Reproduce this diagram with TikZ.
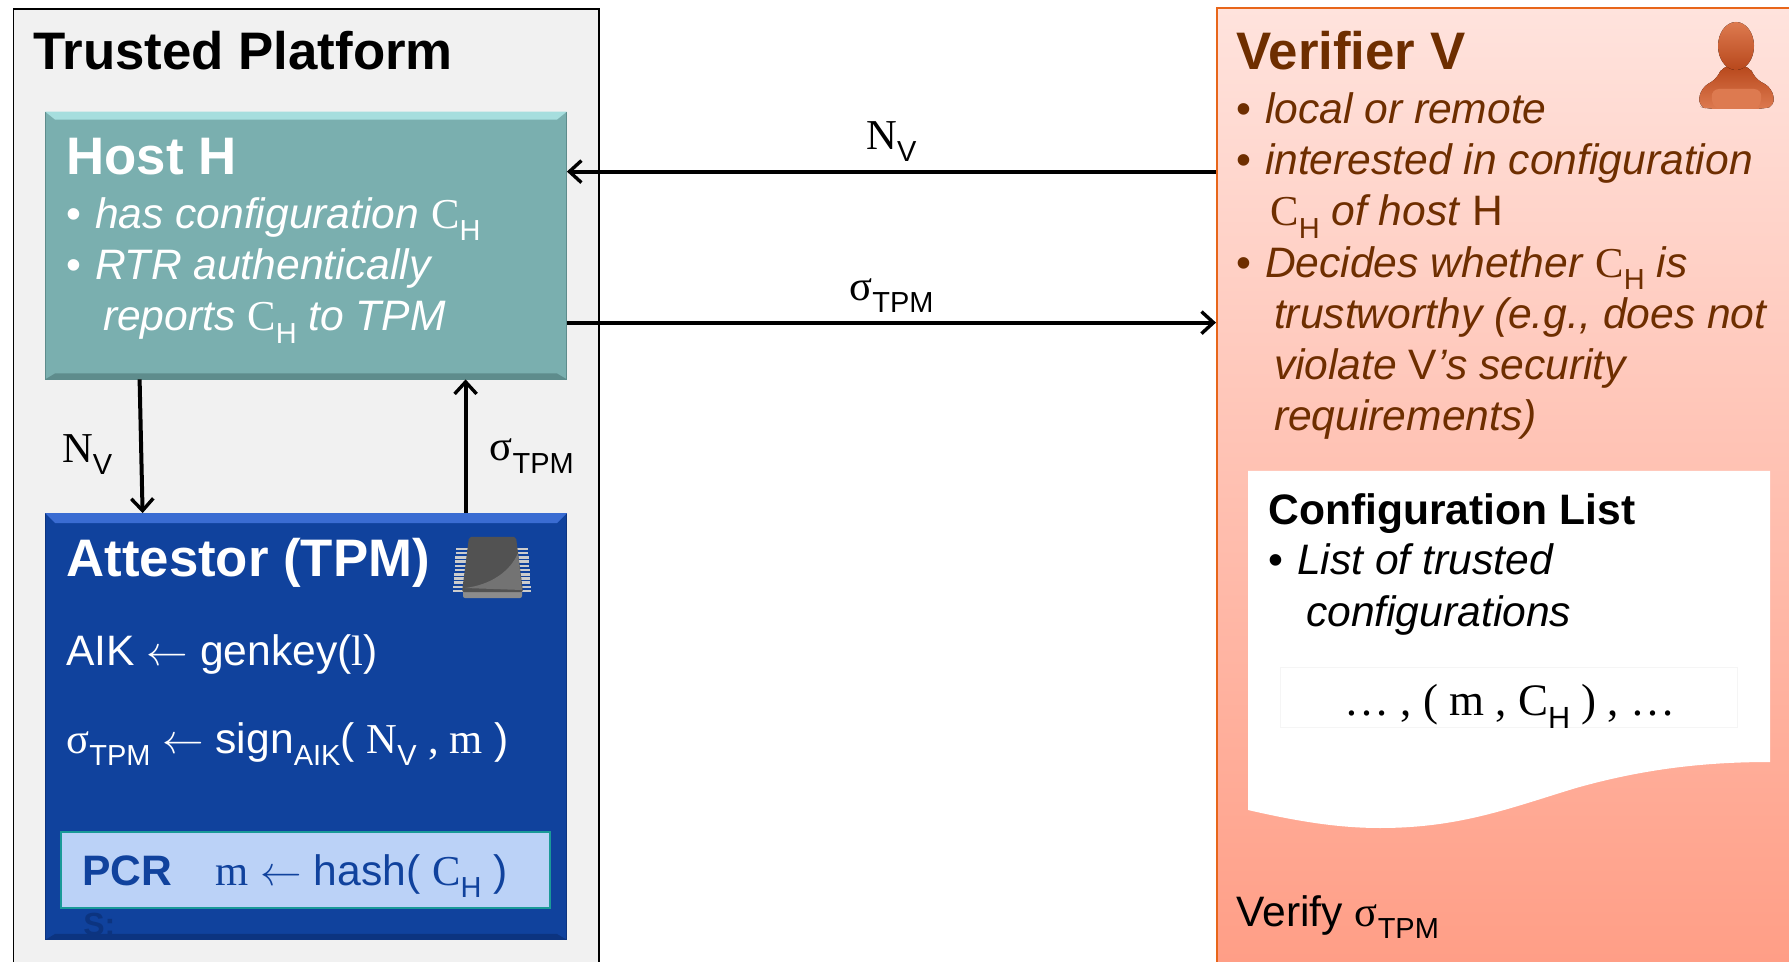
\documentclass[tikz,border=0pt]{standalone}
\usepackage{fontspec}
\setmainfont{Liberation Sans}
\newfontfamily\tnr{Liberation Serif}
\usetikzlibrary{calc, arrows.meta}

\definecolor{platformgray}{HTML}{F1F1F1}
\definecolor{hostteal}{HTML}{7AAFAF}
\definecolor{hostlight}{HTML}{A6DEDE}
\definecolor{hostdark}{HTML}{5E8C8C}
\definecolor{tpmblue}{HTML}{10429D}
\definecolor{tpmlight}{HTML}{3A6CD2}
\definecolor{tpmdark}{HTML}{0C3480}
\definecolor{pcrblue}{HTML}{BBD2F7}
\definecolor{pcrteal}{HTML}{1A9A98}
\definecolor{verifierorange}{HTML}{E8661A}
\definecolor{verifierbrown}{HTML}{6E2E00}
\definecolor{verifiertop}{HTML}{FFE3DD}
\definecolor{verifierbottom}{HTML}{FF9D85}
\definecolor{persondark}{HTML}{B8481C}
\definecolor{personlight}{HTML}{DD7A50}

\newcommand{\low}[1]{\raisebox{-0.55ex}{\scalebox{0.68}{\normalfont #1}}}
\newcommand{\CH}{{\normalfont\tnr C}\low{H}}
\newcommand{\NV}{{\normalfont\tnr N}\low{V}}
\newcommand{\sigTPM}{{\normalfont\tnr σ}\low{TPM}}
\newcommand{\blt}{\makebox[14.3pt][l]{\normalfont\textbullet}}
\newcommand{\backarrow}{$\leftarrow$}

\tikzstyle{txt} = [inner sep = 0pt, anchor = base west, align = left, font = \fontsize{21.3}{25.65}\selectfont]
\tikzstyle{headtxt} = [inner sep = 0pt, anchor = base west, font = \fontsize{26.4}{30}\selectfont\bfseries]
\tikzstyle{arrowtxt} = [inner sep = 1pt, font = \fontsize{21.3}{25.65}\selectfont]
\tikzstyle{rec} = [rectangle, inner sep = 0pt, minimum width = 260.5pt, minimum height = 133.5pt, draw = hostdark, fill = hostteal]
\tikzstyle{rec1} = [rectangle, inner sep = 0pt, minimum width = 260.5pt, minimum height = 213pt, draw = tpmdark, fill = tpmblue]
\tikzstyle{rec2} = [rectangle, inner sep = 0pt, minimum width = 244.5pt, minimum height = 38pt, draw = pcrteal, line width = 1pt, fill = pcrblue]
\tikzstyle{arrow} = [line width = 2pt, -{Straight Barb[length = 6pt, width = 11pt, line width = 1.7pt]}]

\begin{document}
\begin{tikzpicture}[x = 0.5pt, y = -0.5pt, node distance = 240.5pt]
    \clip (0, 0) rectangle (1789, 962);
    \node(platform)[rectangle, inner sep = 0pt, minimum width = 292.7pt, minimum height = 500pt, anchor = north west, draw = black, line width = 0.9pt, fill = platformgray] at (12.5, 8) {};
    \node(verifier)[rectangle, inner sep = 0pt, minimum width = 320pt, minimum height = 483pt, anchor = north west, draw = verifierorange, line width = 0.9pt, top color = verifiertop, bottom color = verifierbottom] at (1216, 7) {};

    \node(host)[rec] at (306, 245.5) {};
    \fill[hostlight] (host.north west) -- (host.north east) -- ([xshift = -5pt, yshift = -4pt]host.north east) -- ([xshift = 5pt, yshift = -4pt]host.north west) -- cycle;
    \fill[hostdark] (host.south west) -- (host.south east) -- ([xshift = -5pt, yshift = 3pt]host.south east) -- ([xshift = 5pt, yshift = 3pt]host.south west) -- cycle;
    \node(attestor)[rec1, below of = host] {};
    \fill[tpmlight] (attestor.north west) -- (attestor.north east) -- ([xshift = -5pt, yshift = -5pt]attestor.north east) -- ([xshift = 5pt, yshift = -5pt]attestor.north west) -- cycle;
    \fill[tpmdark] (attestor.south west) -- (attestor.south east) -- ([xshift = -5pt, yshift = 3pt]attestor.south east) -- ([xshift = 5pt, yshift = 3pt]attestor.south west) -- cycle;
    \node(pcr)[rec2] at (305.5, 870) {};

    % configuration list sheet
    \fill[white] (1248, 471) -- (1770, 471) -- (1770, 762) .. controls (1700, 762) and (1640, 770) .. (1576, 788) .. controls (1510, 808) and (1460, 828) .. (1380, 828) .. controls (1340, 828) and (1300, 822) .. (1248, 810) -- cycle;
    \node(pair)[rectangle, inner sep = 0pt, minimum width = 228.5pt, minimum height = 30pt, draw = black!4] at (1508.5, 697) {};

    % chip
    \foreach \i in {0, ..., 10} {
        \draw[black!20, line width = 1.3pt] (456 - 0.3 * \i, 549 + 4.2 * \i) -- (468, 549 + 4.2 * \i);
        \draw[black!20, line width = 1.3pt] (517, 549 + 4.2 * \i) -- (528 + 0.3 * \i, 549 + 4.2 * \i);
    }
    \fill[black!45, rounded corners = 1pt] (463, 585) -- (522, 585) -- (522, 598) -- (463, 598) -- cycle;
    \fill[black!68, rounded corners = 1pt] (469, 537) -- (516, 537) -- (523, 592) -- (462, 592) -- cycle;
    \fill[black!55] (518, 553) .. controls (510, 572) and (490, 585) .. (465, 588) -- (522, 590) -- cycle;

    % person
    \fill[top color = persondark, bottom color = personlight, rounded corners = 4pt] (1722, 66) -- (1750, 66) -- (1754, 78) -- (1772, 88) -- (1775, 106) -- (1762, 109) -- (1708, 109) -- (1698, 106) -- (1701, 88) -- (1718, 78) -- cycle;
    \fill[personlight, rounded corners = 4pt] (1711, 89) -- (1762, 89) -- (1760, 109) -- (1713, 109) -- cycle;
    \fill[top color = personlight, bottom color = persondark] (1736, 46) ellipse [x radius = 18, y radius = 24];

    \node(platformname)[headtxt] at (33, 70) {Trusted Platform};
    \node(hostname)[headtxt, text = white] at (66, 174.5) {Host H};
    \node(hosttext)[txt, text = white] at (66, 331) {\blt\textit{has configuration} \CH\\\blt\textit{RTR authentically}\\\hspace*{18.3pt}\textit{reports} \CH{} \textit{to TPM}};
    \node(attestorname)[headtxt, text = white] at (66, 576) {Attestor (TPM)};
    \node(genkey)[txt, text = white] at (66, 665) {AIK \backarrow{} genkey({\tnr l})};
    \node(sign)[txt, text = white] at (66, 753) {\sigTPM{} \backarrow{} sign\low{AIK}( \NV{} {\tnr , m} )};
    \node(pcrname)[txt, text = tpmblue, font = \fontsize{21.3}{25.65}\selectfont\bfseries] at (82, 885) {PCR};
    \node(hash)[txt, text = tpmblue] at (215, 885) {{\tnr m} \backarrow{} hash( \CH{} )};
    \node(hidden)[txt, text = tpmdark, font = \fontsize{16}{18}\selectfont\bfseries] at (83, 935) {S:};

    \node(verifiername)[headtxt, text = verifierbrown] at (1236, 70) {Verifier V};
    \node(verifiertext)[txt, text = verifierbrown] at (1236, 431) {\blt\textit{local or remote}\\\blt\textit{interested in configuration}\\\hspace*{17pt}\CH{} \textit{of host} H\\\blt\textit{Decides whether} \CH{} \textit{is}\\\hspace*{18.8pt}\textit{trustworthy (e.g., does not}\\\hspace*{18.8pt}\textit{violate} V\textit{'s security}\\\hspace*{18.8pt}\textit{requirements)}};
    \node(listname)[txt, font = \fontsize{21.3}{25.65}\selectfont\bfseries] at (1268, 524) {Configuration List};
    \node(listtext)[txt] at (1268, 626) {\blt\textit{List of trusted}\\\hspace*{18.8pt}\textit{configurations}};
    \node(pairtext)[txt, font = \fontsize{22.5}{26}\selectfont] at (1344, 715) {{\tnr … , ( m , }\CH{}{\tnr{} ) , …}};
    \node(verifytext)[txt] at (1236, 926) {Verify \sigTPM};

    \draw[arrow] (verifier.west |- {$(host.north)+(0, 60)$}) -- ($(host.north east)+(0, 60)$) node[midway, above, arrowtxt, yshift = 3pt] (nvtop) {\NV};
    \draw[arrow] ($(host.north east)+(0, 211)$) -- (verifier.west |- {$(host.north)+(0, 211)$}) node[midway, above, arrowtxt, yshift = 3pt] (sigtop) {\sigTPM};
    \draw[arrow] ($(host.south west)+(94.5, 0)$) -- ($(attestor.north west)+(97.5, 0)$) node[midway, left, arrowtxt, inner sep = 13.5pt, yshift = -4pt] (nvleft) {\NV};
    \draw[arrow] ($(attestor.north west)+(420.5, 0)$) -- ($(host.south west)+(420.5, 0)$) node[midway, right, arrowtxt, inner sep = 11pt, yshift = -5pt] (sigright) {\sigTPM};
\end{tikzpicture}
\end{document}
